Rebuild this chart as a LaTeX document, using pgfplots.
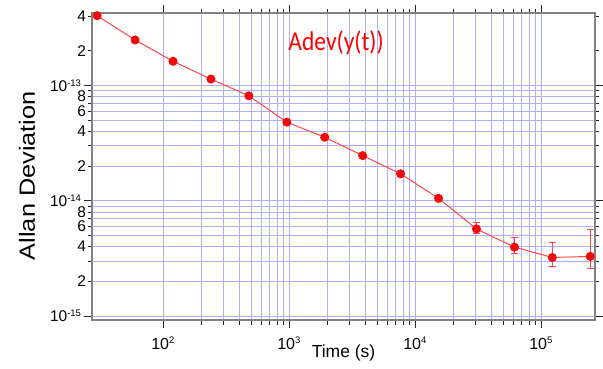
\documentclass[border=0pt]{standalone}
\usepackage{pgfplots}
\pgfplotsset{compat=1.18}
\usepackage{pgfplotstable}
\usepackage{graphicx}
\usepackage{fontspec}
\setmainfont{Liberation Sans}
\newfontfamily\calfont{Carlito}
\definecolor{mred}{RGB}{240,10,10}
\definecolor{lred}{RGB}{255,70,70}
\definecolor{gridblue}{RGB}{175,175,252}
\definecolor{axgray}{RGB}{130,130,130}
\newcommand{\tl}[1]{10\textsuperscript{\fontsize{9.5}{10}\selectfont #1}}

\pgfplotstableread{
tau adev
30 4.03e-13
60 2.48e-13
120 1.62e-13
240 1.135e-13
480 8.12e-14
960 4.8e-14
1920 3.55e-14
3840 2.46e-14
7680 1.71e-14
15360 1.047e-14
30720 5.68e-15
61440 3.95e-15
122880 3.21e-15
245760 3.28e-15
}\adevdata

\pgfplotstableread{
tau adev ep em
30720 5.68e-15 0.72e-15 0.52e-15
61440 3.95e-15 0.79e-15 0.44e-15
122880 3.21e-15 1.10e-15 0.52e-15
245760 3.28e-15 2.35e-15 0.70e-15
}\errdata

\begin{document}
\begin{tikzpicture}
\begin{axis}[
  scale only axis,
  width=503pt, height=307pt,
  xmode=log, ymode=log,
  xmin=27.3, xmax=2.68e5,
  ymin=9.2e-16, ymax=4.25e-13,
  axis line style={line width=1.3pt},
  tick align=outside,
  every tick/.append style={black!85, line width=0.6pt},
  major tick length=8pt,
  minor tick length=4.5pt,
  grid=both,
  grid style={gridblue, line width=0.6pt},
  major grid style={gridblue, line width=0.6pt},
  minor grid style={gridblue, line width=0.6pt},
  xtick={100,1000,10000,100000},
  xticklabels={\tl{2},\tl{3},\tl{4},\tl{5}},
  x tick label style={font=\fontsize{16}{17}\selectfont, yshift=-5pt},
  ytick={1e-15,1e-14,1e-13},
  yticklabels={\tl{-15},\tl{-14},\tl{-13}},
  y tick label style={font=\fontsize{15.5}{17}\selectfont, xshift=1pt},
  extra y ticks={2e-15,4e-15,6e-15,8e-15,2e-14,4e-14,6e-14,8e-14,2e-13,4e-13},
  extra y tick labels={2,4,6,8,2,4,6,8,2,4},
  extra y tick style={major tick length=4.5pt, grid=none,
     tick label style={font=\fontsize{10}{11}\selectfont, xshift=1pt}},
  xlabel={Time (s)},
  xlabel style={font=\fontsize{17.5}{20}\selectfont, at={(axis description cs:0.5,0)}, anchor=center, yshift=-33pt},
  ylabel={\scalebox{1.15}[1]{Allan Deviation}},
  ylabel style={font=\fontsize{22}{24}\selectfont, at={(axis description cs:-0.129,0.47)}, anchor=center},
  clip=false,
]
\addplot[lred, line width=1pt, mark=*, mark size=4pt, mark options={mred, fill=mred, draw=mred}] table[x=tau, y=adev] {\adevdata};
\addplot[draw=none, mark=none, forget plot,
  error bars/.cd, y dir=both, y explicit,
  error bar style={draw=lred, line width=1pt},
  error mark options={draw=lred, rotate=90, mark size=3.5pt, line width=1pt}]
  table[x=tau, y=adev, y error plus=ep, y error minus=em] {\errdata};
\draw[axgray, line width=1.3pt] (rel axis cs:0,0) rectangle (rel axis cs:1,1);
\node[text=red, font=\calfont\fontsize{23.5}{26}\selectfont, inner sep=0pt] at (axis cs:2360,2.33e-13) {\scalebox{1}[1.15]{Adev(y(t))}};
\end{axis}
\pgfresetboundingbox
\path (current axis.south west) ++(-92pt,-48pt) rectangle ++(603pt,368pt);
\end{tikzpicture}
\end{document}
